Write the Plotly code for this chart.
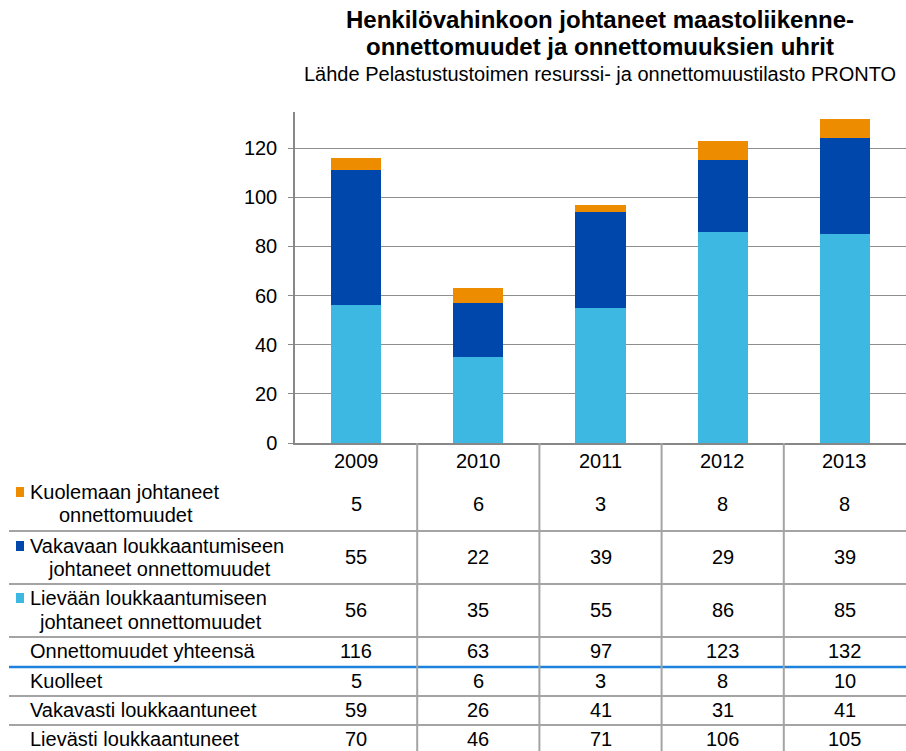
import plotly.graph_objects as go

years = ["2009", "2010", "2011", "2012", "2013"]
kuolemaan = [5, 6, 3, 8, 8]
vakavaan = [55, 22, 39, 29, 39]
lievaan = [56, 35, 55, 86, 85]
yhteensa = [116, 63, 97, 123, 132]
kuolleet = [5, 6, 3, 8, 10]
vakavasti = [59, 26, 41, 31, 41]
lievasti = [70, 46, 71, 106, 105]

C_OR = "#EE8C00"
C_DB = "#0047AB"
C_LB = "#3DB8E3"

W, H = 906, 751
def py(p):
    return 1 - p / H
def px(p):
    return p / W

FONT = "Liberation Sans, Arial, sans-serif"
FS = 20

fig = go.Figure()
fig.add_trace(go.Bar(x=years, y=lievaan, marker_color=C_LB, marker_line_width=0,
                     name="Lievään loukkaantumiseen johtaneet onnettomuudet"))
fig.add_trace(go.Bar(x=years, y=vakavaan, marker_color=C_DB, marker_line_width=0,
                     name="Vakavaan loukkaantumiseen johtaneet onnettomuudet"))
fig.add_trace(go.Bar(x=years, y=kuolemaan, marker_color=C_OR, marker_line_width=0,
                     name="Kuolemaan johtaneet onnettomuudet"))

shapes = []
ann = []
GRID = "#8E8E8E"
TLINE = "#A4A4A4"

def txt(s, x, y, xanchor="left", xref="paper", size=FS, **kw):
    ann.append(dict(text=s, xref=xref, yref="paper", x=x, y=py(y), xanchor=xanchor,
                    yanchor="middle", showarrow=False,
                    font=dict(size=size, color="#000", family=FONT), **kw))

def col_vals(vals, y):
    # category axis: annotation x given as category index
    for i, v in enumerate(vals):
        txt(str(v), i, y, xanchor="center", xref="x")

# table horizontal lines
for yl in [531, 584, 637, 696, 725]:
    shapes.append(dict(type="line", xref="paper", yref="paper", x0=px(9), x1=1,
                       y0=py(yl), y1=py(yl), line=dict(color=TLINE, width=2)))
shapes.append(dict(type="line", xref="paper", yref="paper", x0=px(9), x1=1,
                   y0=py(667), y1=py(667), line=dict(color="#1C82DC", width=2.5)))
# table vertical lines at category boundaries
for i in range(len(years) - 1):
    shapes.append(dict(type="line", xref="x", yref="paper", x0=i + 0.5, x1=i + 0.5,
                       y0=0, y1=py(443), line=dict(color=TLINE, width=2)))

series_rows = [
    ("Kuolemaan johtaneet", "onnettomuudet", 126, 492, 515, kuolemaan, 504, C_OR),
    ("Vakavaan loukkaantumiseen", "johtaneet onnettomuudet", 159, 546, 569, vakavaan, 557, C_DB),
    ("Lievään loukkaantumiseen", "johtaneet onnettomuudet", 150, 598, 622, lievaan, 610, C_LB),
]
for l1, l2, c2, y1, y2, vals, yv, col in series_rows:
    txt(l1, px(28), y1)
    txt(l2, px(c2), y2, xanchor="center")
    shapes.append(dict(type="rect", xref="paper", yref="paper", x0=px(16), x1=px(24),
                       y0=py(y1 - 5), y1=py(y1 + 5), fillcolor=col, line=dict(width=0)))
    col_vals(vals, yv)

other_rows = [
    ("Onnettomuudet yhteensä", yhteensa, 651),
    ("Kuolleet", kuolleet, 681),
    ("Vakavasti loukkaantuneet", vakavasti, 710),
    ("Lievästi loukkaantuneet", lievasti, 739),
]
for label, vals, yc in other_rows:
    txt(label, px(28), yc)
    col_vals(vals, yc)

col_vals(years, 461)

# title
txt("<b>Henkilövahinkoon johtaneet maastoliikenne-</b>", px(600), 20, xanchor="center", size=24)
txt("<b>onnettomuudet ja onnettomuuksien uhrit</b>", px(600), 46, xanchor="center", size=24)
txt("Lähde Pelastustustoimen resurssi- ja onnettomuustilasto PRONTO", px(600), 74,
    xanchor="center", size=20)

fig.update_layout(
    width=W, height=H,
    margin=dict(l=0, r=0, t=0, b=0),
    paper_bgcolor="white", plot_bgcolor="white",
    barmode="stack", bargap=0.59,
    showlegend=False,
    xaxis=dict(domain=[px(295), 1], type="category", range=[-0.5, 4.5], autorange=False,
               showticklabels=False, ticks="",
               showline=True, linecolor="#888", linewidth=1.5, showgrid=False, zeroline=False),
    yaxis=dict(domain=[py(443), py(112)], range=[0, 134.7], autorange=False, dtick=20,
               showgrid=True, gridcolor=GRID, gridwidth=1, showline=True, linecolor="#888",
               linewidth=1.5, ticks="outside", ticklen=5, tickcolor="#888", zeroline=False,
               ticklabelstandoff=7,
               tickfont=dict(size=FS, color="#000", family=FONT), automargin=False),
    shapes=shapes, annotations=ann,
)

fig.write_html("out.html", config={"displayModeBar": False},
               post_script="document.body.style.margin='0';document.body.style.overflow='hidden';")
